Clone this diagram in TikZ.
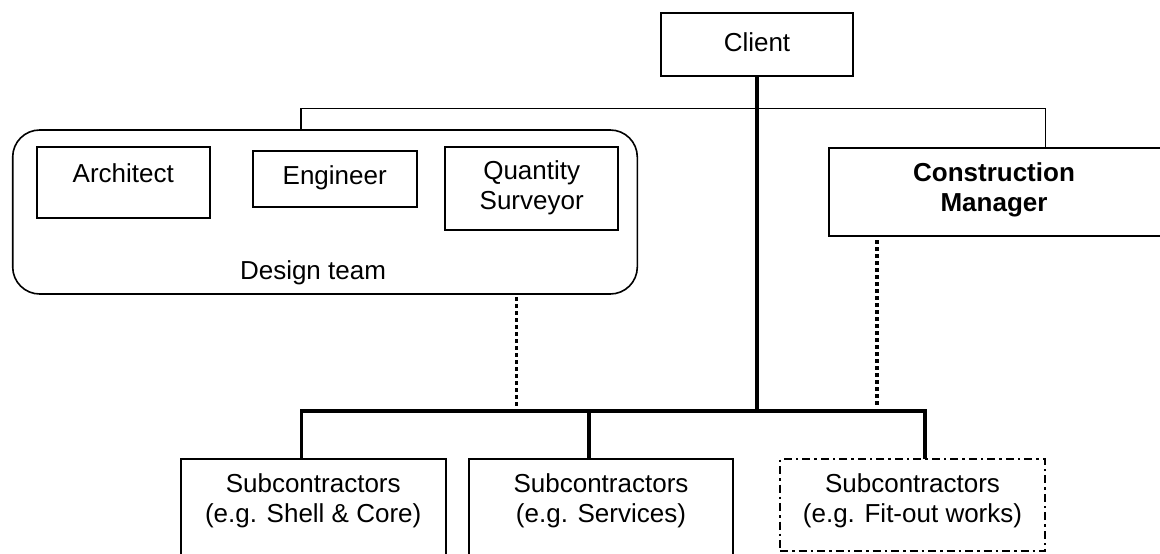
\documentclass[tikz,border=0pt]{standalone}
\usepackage{fontspec}
\setmainfont{Liberation Sans}
\begin{document}
\begin{tikzpicture}[x=1pt,y=-1pt,
  box/.style={draw=black,line width=1.8pt,rectangle,inner sep=0pt,outer sep=0pt},
  dashbox/.style={draw=black,line width=1.8pt,rectangle,inner sep=0pt,outer sep=0pt,dash pattern=on 8pt off 4pt on 2.5pt off 4pt},
  teambox/.style={draw=black,line width=1.6pt,rectangle,rounded corners=27pt,inner sep=0pt,outer sep=0pt},
  txt/.style={inner sep=0pt,align=center,font=\fontsize{26}{30}\selectfont},
  boldtxt/.style={inner sep=0pt,align=center,font=\fontsize{26}{30}\selectfont\bfseries},
  thinline/.style={line width=1.3pt},
  heavyline/.style={line width=3.4pt},
  dotline/.style={line width=3.5pt,dash pattern=on 4pt off 3pt}]
\clip (0,0) rectangle (1160,554);
\fill[white] (0,0) rectangle (1160,554);

% top
\node[box,minimum width=192.6pt,minimum height=63.3pt] (client) at (757,44.3) {};
\node[txt] (clientt) at (757,42) {Client};

% design team
\node[teambox,minimum width=624.6pt,minimum height=164pt] (design) at (325,212) {};
\node[txt] (designt) at (313,272.7) {Design team};
\node[box,minimum width=173.3pt,minimum height=71.6pt] (arch) at (123.3,182.5) {};
\node[txt] (archt) at (123.3,173) {Architect};
\node[box,minimum width=164pt,minimum height=56.6pt] (eng) at (334.7,179) {};
\node[txt] (engt) at (334.7,178) {Engineer};
\node[box,minimum width=173.3pt,minimum height=83.3pt] (qs) at (531.7,188.3) {};
\node[txt] (qst) at (531.7,188) {Quantity\\Surveyor};

% construction manager
\node[box,minimum width=335.7pt,minimum height=88pt] (cm) at (997,192) {};
\node[boldtxt] (cmt) at (994,190) {Construction\\Manager};

% subcontractors
\node[box,minimum width=265pt,minimum height=106pt] (sub1) at (313.2,512) {};
\node[txt] (sub1t) at (313.2,501) {Subcontractors\\(e.g. Shell \& Core)};
\node[box,minimum width=264pt,minimum height=106pt] (sub2) at (601,512) {};
\node[txt] (sub2t) at (601,501) {Subcontractors\\(e.g. Services)};
\node[dashbox,minimum width=265pt,minimum height=92pt] (sub3) at (912.5,505) {};
\node[txt] (sub3t) at (912.5,501) {Subcontractors\\(e.g. Fit-out works)};

% coordinates
\coordinate (t1) at (301,108.3);
\coordinate (t2) at (1045.7,108.3);
\coordinate (b1) at (301.7,411);
\coordinate (b2) at (589,411);
\coordinate (bc) at (757,411);
\coordinate (b3) at (925,411);
\coordinate (d1) at (516.7,406);
\coordinate (d2) at (877,406);

% thin connector client level
\draw[thinline] (design.north -| t1) -- (t1) -- (t2) -- (cm.north -| t2);
% thick main line
\draw[heavyline] (client.south) -- (bc);
\draw[heavyline] (sub1.north -| b1) -- (b1) -- (b3) -- (sub3.north -| b3);
\draw[heavyline] (b2) -- (sub2.north -| b2);
% dotted links
\draw[dotline] ([yshift=-3pt]design.south -| d1) -- (d1);
\draw[dotline] ([yshift=-4pt]cm.south -| d2) -- (d2);
\end{tikzpicture}
\end{document}
